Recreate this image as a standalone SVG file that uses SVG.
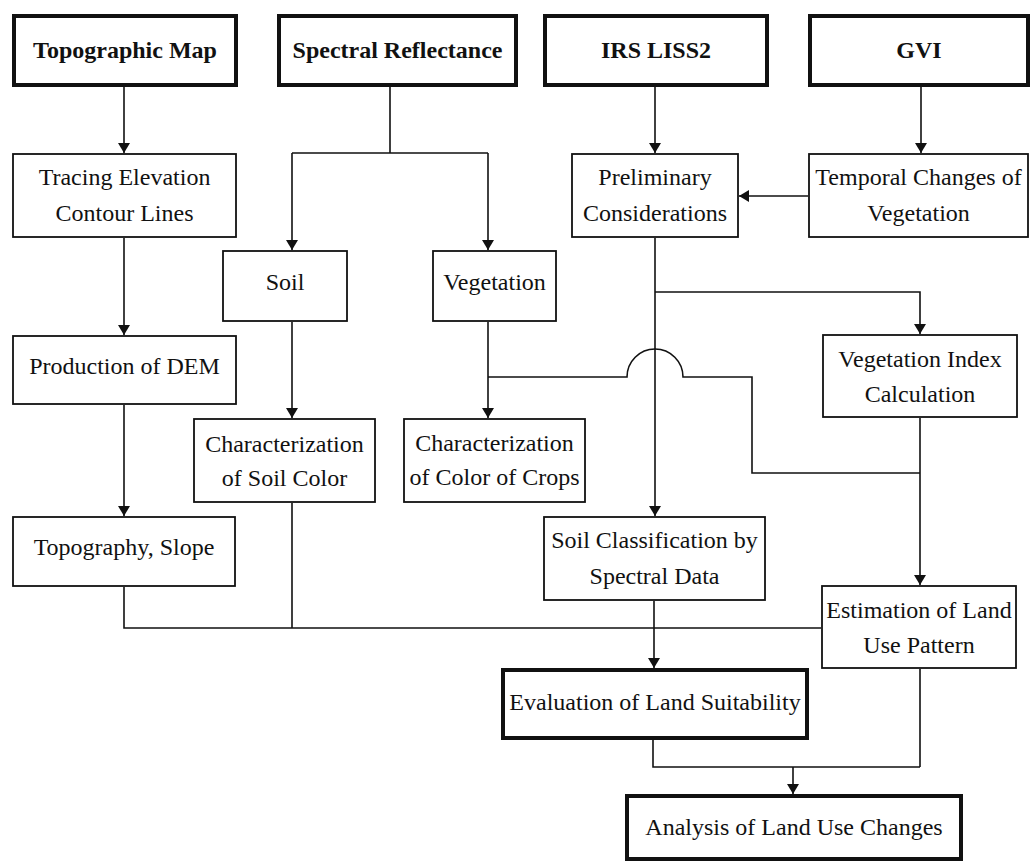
<svg xmlns="http://www.w3.org/2000/svg" width="1031" height="862" viewBox="0 0 1031 862">
<defs>
<marker id="ah" markerUnits="userSpaceOnUse" viewBox="0 0 10 12" markerWidth="10" markerHeight="12" refX="10" refY="6" orient="auto">
<path d="M0,0 L10,6 L0,12 z" fill="#111"/>
</marker>
<style>
.box{fill:#fff;stroke:#111;stroke-width:1.8}
.thick{fill:#fff;stroke:#111;stroke-width:4}
.t{font-family:"Liberation Serif","Times New Roman",serif;font-size:24px;fill:#111;text-anchor:middle}
.b{font-weight:bold}
.c{fill:none;stroke:#111;stroke-width:1.6}
.a{marker-end:url(#ah)}
</style>
</defs>
<rect width="1031" height="862" fill="#fff"/>
<g id="connectors">
<path class="c a" d="M124,87 V153"/>
<path class="c a" d="M124,238 V335"/>
<path class="c a" d="M124,405 V516"/>
<path class="c" d="M390,87 V153 M292,153 H488"/>
<path class="c a" d="M292,153 V250"/>
<path class="c a" d="M488,153 V250"/>
<path class="c a" d="M292,322 V418"/>
<path class="c a" d="M488,322 V418"/>
<path class="c" d="M488,377 H627 A28,28 0 0 1 683,377 H752 V473 H920"/>
<path class="c a" d="M655,86 V153"/>
<path class="c a" d="M921,86 V153"/>
<path class="c a" d="M808,196 H739"/>
<path class="c a" d="M655,238 V516"/>
<path class="c a" d="M655,292 H920 V334"/>
<path class="c a" d="M920,418 V585"/>
<path class="c" d="M124,587 V628 H821 M292,503 V628"/>
<path class="c a" d="M654,601 V668"/>
<path class="c" d="M653,740 V767 H920 M920,669 V767"/>
<path class="c a" d="M793,767 V794"/>
</g>
<g id="n-topomap"><rect class="thick" x="14" y="16" width="222" height="69"/><text class="t b" x="125" y="58">Topographic Map</text></g>
<g id="n-spectral"><rect class="thick" x="279" y="16" width="237" height="69"/><text class="t b" x="397.5" y="58">Spectral Reflectance</text></g>
<g id="n-irs"><rect class="thick" x="545" y="16" width="222" height="69"/><text class="t b" x="656" y="58">IRS LISS2</text></g>
<g id="n-gvi"><rect class="thick" x="810" y="16" width="218" height="69"/><text class="t b" x="919" y="58">GVI</text></g>
<g id="n-tracing"><rect class="box" x="13" y="154" width="223" height="83"/><text class="t" x="124.5" y="185">Tracing Elevation</text><text class="t" x="124.5" y="221">Contour Lines</text></g>
<g id="n-prelim"><rect class="box" x="572" y="154" width="166" height="83"/><text class="t" x="655" y="185">Preliminary</text><text class="t" x="655" y="221">Considerations</text></g>
<g id="n-temporal"><rect class="box" x="809" y="154" width="219" height="83"/><text class="t" x="918.5" y="185">Temporal Changes of</text><text class="t" x="918.5" y="221">Vegetation</text></g>
<g id="n-soil"><rect class="box" x="223" y="251" width="124" height="70"/><text class="t" x="285" y="290">Soil</text></g>
<g id="n-vegetation"><rect class="box" x="433" y="251" width="123" height="70"/><text class="t" x="494.5" y="290">Vegetation</text></g>
<g id="n-dem"><rect class="box" x="13" y="336" width="223" height="68"/><text class="t" x="124.5" y="374">Production of DEM</text></g>
<g id="n-vegindex"><rect class="box" x="823" y="335" width="194" height="82"/><text class="t" x="920" y="367">Vegetation Index</text><text class="t" x="920" y="402">Calculation</text></g>
<g id="n-charsoil"><rect class="box" x="194" y="419" width="181" height="83"/><text class="t" x="284.5" y="452">Characterization</text><text class="t" x="284.5" y="486">of Soil Color</text></g>
<g id="n-charcrops"><rect class="box" x="404" y="419" width="181" height="83"/><text class="t" x="494.5" y="451">Characterization</text><text class="t" x="494.5" y="485">of Color of Crops</text></g>
<g id="n-topography"><rect class="box" x="13" y="517" width="222" height="69"/><text class="t" x="124" y="555">Topography, Slope</text></g>
<g id="n-soilclass"><rect class="box" x="544" y="517" width="221" height="83"/><text class="t" x="654.5" y="548">Soil Classification by</text><text class="t" x="654.5" y="584">Spectral Data</text></g>
<g id="n-estimation"><rect class="box" x="822" y="586" width="194" height="82"/><text class="t" x="919" y="618">Estimation of Land</text><text class="t" x="919" y="653">Use Pattern</text></g>
<g id="n-evaluation"><rect class="thick" x="503" y="670" width="304" height="68"/><text class="t" x="655" y="710">Evaluation of Land Suitability</text></g>
<g id="n-analysis"><rect class="thick" x="627" y="796" width="334" height="63"/><text class="t" x="794" y="835">Analysis of Land Use Changes</text></g>
</svg>
